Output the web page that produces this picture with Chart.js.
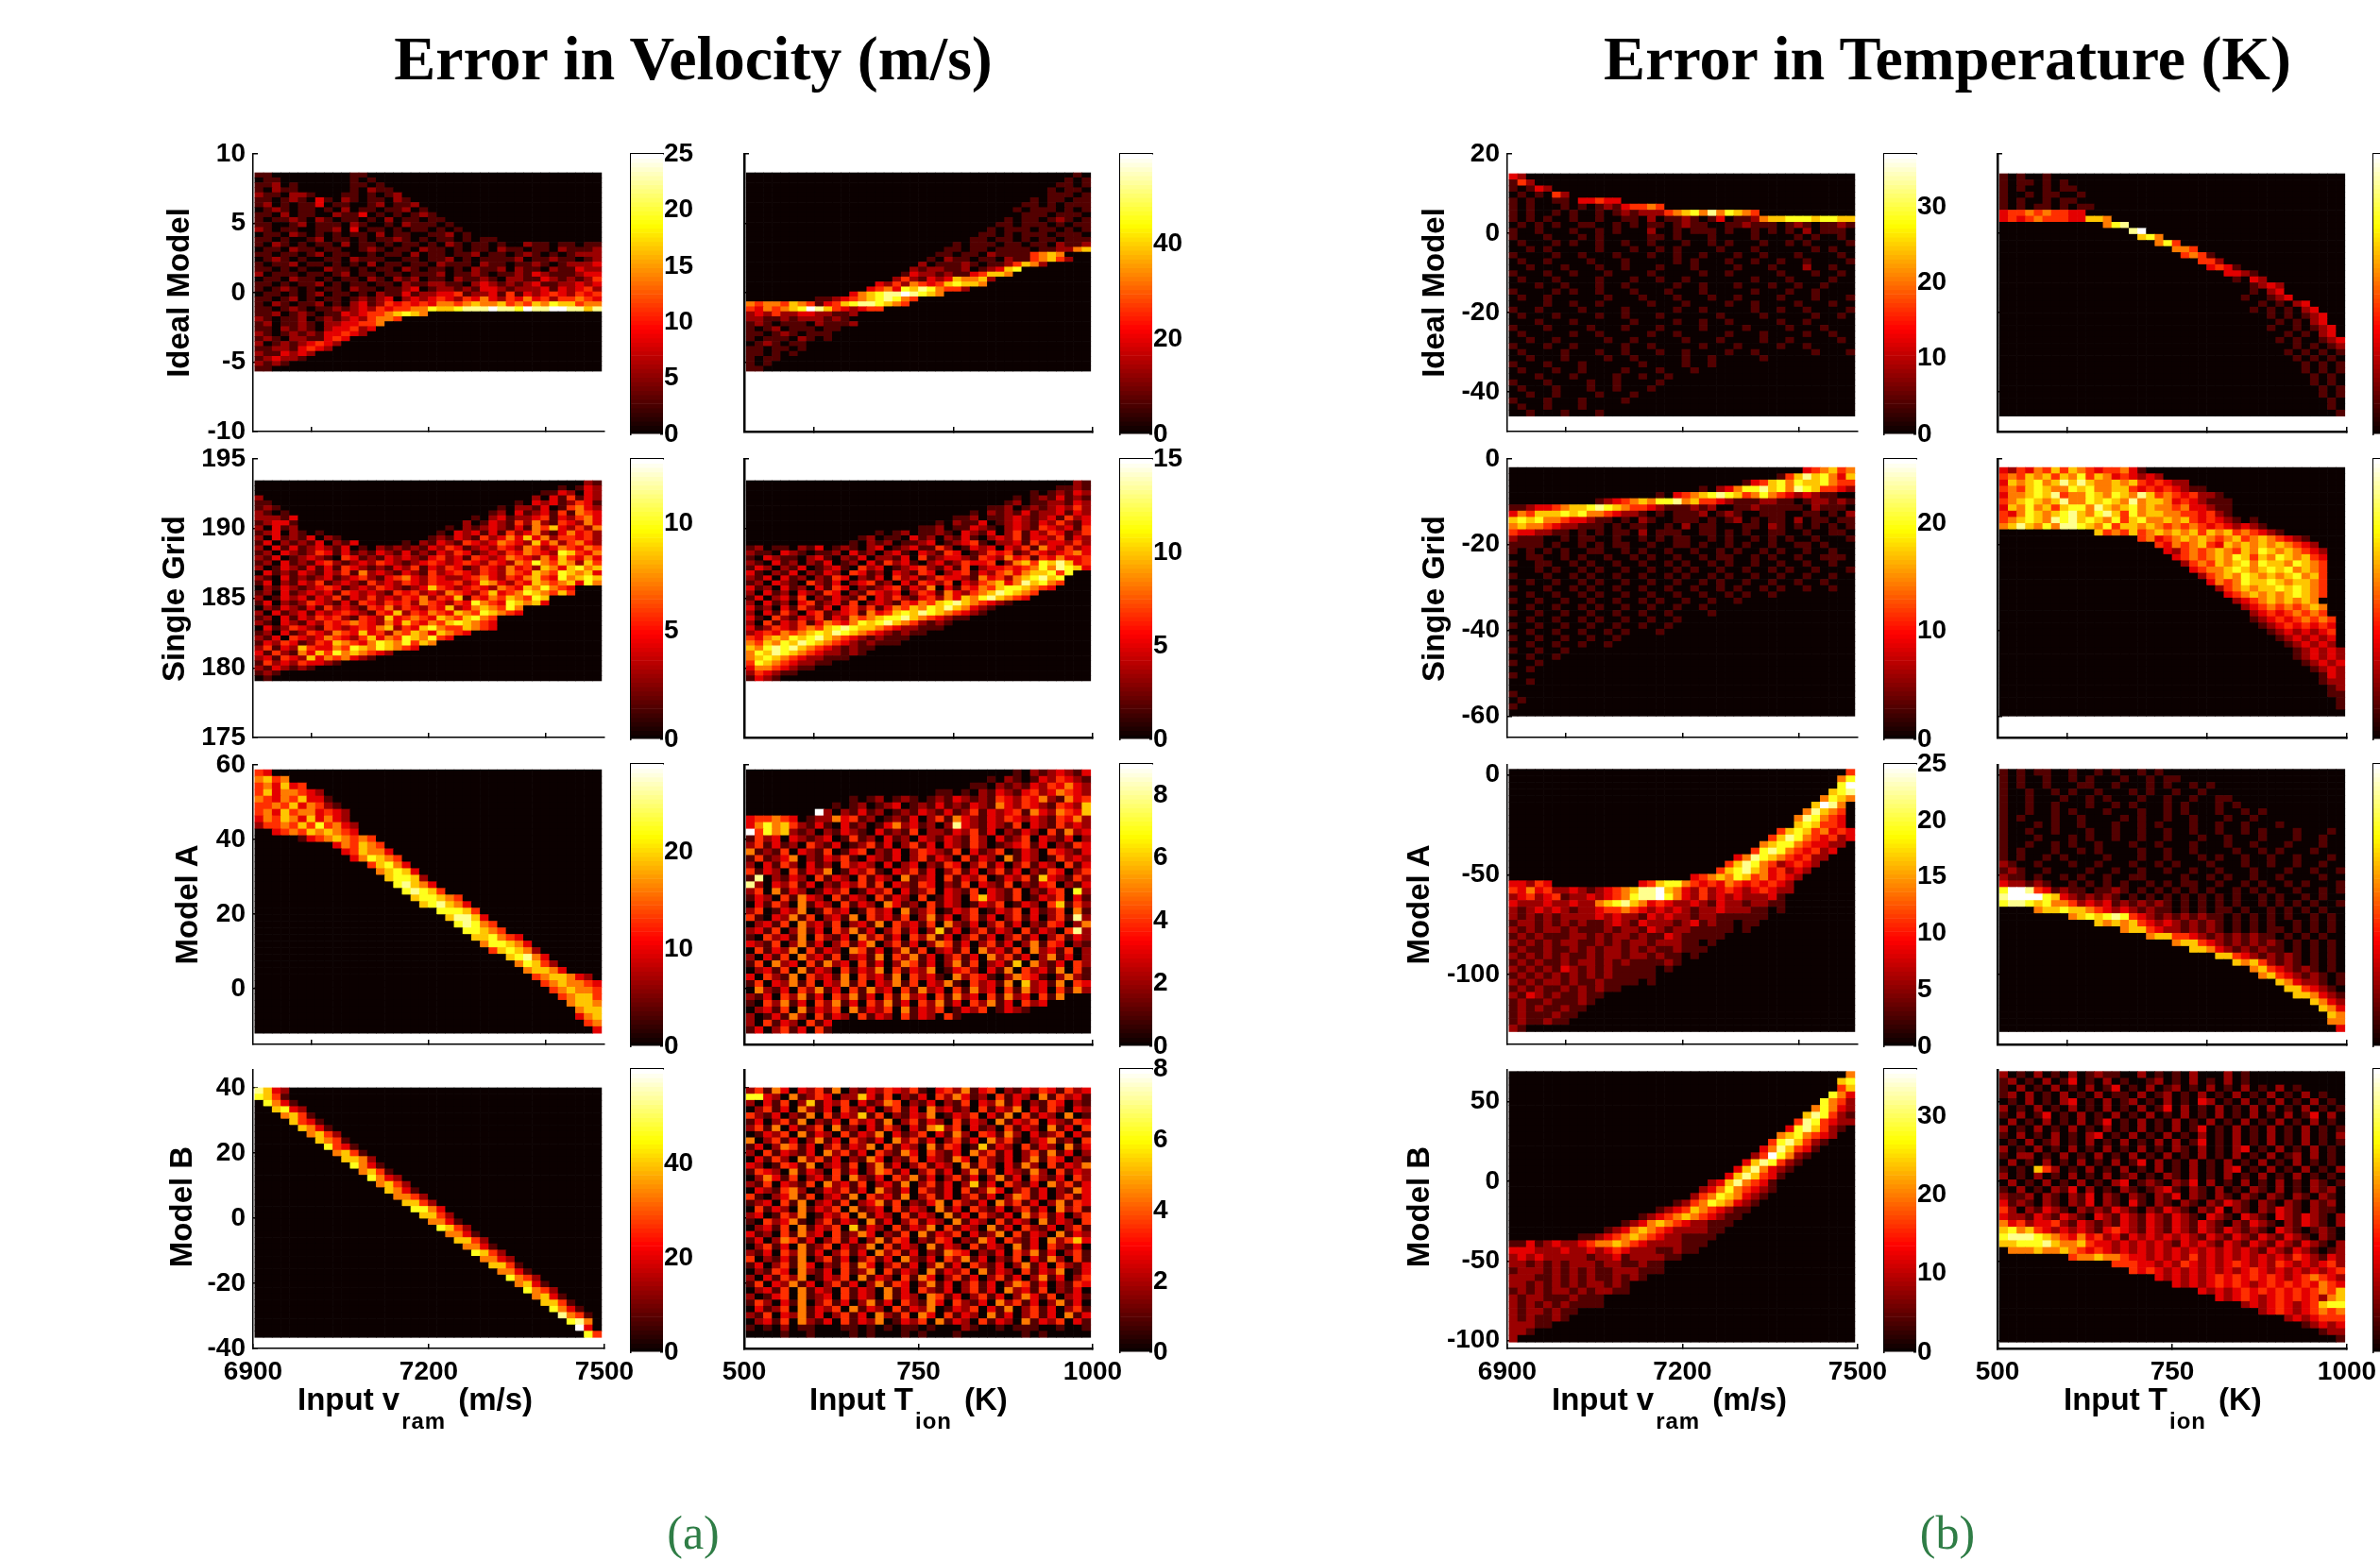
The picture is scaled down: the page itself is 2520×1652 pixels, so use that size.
<!DOCTYPE html>
<html>
<head>
<meta charset="utf-8">
<script src="https://cdn.jsdelivr.net/npm/chart.js@4/dist/chart.umd.min.js"></script>
<style>
html, body { margin: 0; padding: 0; background: #fff; }
#page { position: relative; width: 2520px; height: 1652px; overflow: hidden; background: #fff; }
#page canvas { position: absolute; }
.title { position: absolute; top: 26px; width: 900px; text-align: center; font: bold 66px "Liberation Serif", serif; color: #000; line-height: 72px; }
.caption { position: absolute; top: 1594px; width: 200px; text-align: center; font: 50px "Liberation Serif", serif; color: #2f7d46; line-height: 58px; }
.rowName { position: absolute; width: 300px; height: 40px; line-height: 40px; text-align: center; font: bold 33px "Liberation Sans", sans-serif; color: #000; transform: translate(-50%, -50%) rotate(-90deg); white-space: nowrap; }
.xName { position: absolute; top: 1463px; font: bold 33px "Liberation Sans", sans-serif; color: #000; line-height: 38px; white-space: nowrap; }
.xName sub { font-size: 24px; vertical-align: baseline; position: relative; top: 20px; margin: 0 13px 0 2px; letter-spacing: 1px; }
</style>
</head>
<body>
<div id="page"></div>
<script>
// labels
const rowNames = ['Ideal Model', 'Single Grid', 'Model A', 'Model B'];
const titles = ['Error in Velocity (m/s)', 'Error in Temperature (K)'];
const captions = ['(a)', '(b)'];

// axes of the four rows, velocity block then temperature block
const velYRange = [[-10, 10], [175, 195], [-15, 60], [-40, 45.5]];
const velYTicks = [[-10, -5, 0, 5, 10], [175, 180, 185, 190, 195], [0, 20, 40, 60], [-40, -20, 0, 20, 40]];
const velImgY = [[-5.65, 8.64], [179.07, 193.44], [-12, 58.7], [-36.6, 40]];
const tempYRange = [[-50, 20], [-65, 0], [-135, 5], [-105, 70]];
const tempYTicks = [[-40, -20, 0, 20], [-60, -40, -20, 0], [-100, -50, 0], [-100, -50, 0, 50]];
const tempImgY = [[-46.1, 15], [-60, -2], [-128.6, 2.8], [-101, 69]];

const vramRange = [6900, 7500];
const vramImg = [6903, 7495];
const vramTicks = [7000, 7200, 7400];
const vramBottomTicks = [6900, 7200, 7500];
const tionRange = [500, 1000];
const tionImg = [503, 997];
const tionTicks = [600, 800, 1000];
const tionBottomTicks = [500, 750, 1000];

// colour bars, one per panel
const barMax = [25, 59, 37, 60, 13, 15, 26, 20, 29, 9, 25, 25, 60, 8, 36, 15];
const barTicks = [
  [0, 5, 10, 15, 20, 25], [0, 20, 40], [0, 10, 20, 30], [0, 20, 40],
  [0, 5, 10], [0, 5, 10, 15], [0, 10, 20], [0, 10, 20],
  [0, 10, 20], [0, 2, 4, 6, 8], [0, 5, 10, 15, 20, 25], [0, 10, 20],
  [0, 20, 40], [0, 2, 4, 6, 8], [0, 10, 20, 30], [0, 5, 10, 15]
];

// histogram counts, top row first, one digit per cell (0 to 9 of the panel maximum)
// "12:345" means the digits start at column 12, anything not listed is 0
const velIdealVram = ["1100000000011","01100000000101","112010000001101","1021100000010211","21102210001101012","110121031021011021","1201011301100120112","01210110102011011201","110201100211301010121","1011210210110102011011","11001201110210010211101","210110011203011010110101","0110210101011020110011201","1101001201101011210101101011","1021010110201101011010210110100211011011","0110211011001210110211010110211011021112","1101101201100101102011011201101210101222","0121010011021110011011201011112011211012","1011201101010201101102111021101121012223","1101010021101011021011010211202110211322","2011101101201101101112011210112132111233","0110211010110210212011021121022113212124","1101011201011011021122110232121231122323","1012101011021101123012212133212223132342","0110101201101021131223341223141323432434","1101201011012123023234324353243534244543","1021011201023124343435545655645465766455","1101210112123243445576678889887988998868","11201210113234456765","21011201212324554","120112102233445","11021210233423","2101212133432","12102211343","2012123432","112213432","2113232","123221","2121","11"];
const velIdealTion = ["38:10","37:101","36:1101","35:10110","34:011101","33:1011011","32:11010111","31:101110101","31:011101110","30:1011012101","29:11011101011","28:101110110101","27:1101011101110","26:11011010110111","24:1011101101102112","23:11011011110112256","22:110110211114565","21:10211011021145642","20:201112101124652","19:2122112012367","18:1322121134665","17:242132365562","15:3242543467665","14:345376875442","12:35678898765","8:112345678754","5455465413467887654","4354567986432344","2324223322112","2211212221210","1210111021112","101201110110","1101210111","1011102101","01210110","1101101","110101","10110","101","11"];
const velSingleVram = ["38:21","35:10132","33:1132032","2 32:20314132","11 30:1032312431","121 28:102213014532","2101 27:1203123141543","22213 25:102312234132453","12331 24:2013214252143253","203120 22:102123213154632425","12302101 21:1032313142352135342","2031213021 20:12132142353635244342","130212130213 17:10213214323543263524532","2031312321301021212132431232432542354354","1203212431312132131213243123243543276435","2130123210431213232134231432354325364353","1203121342123243212343234324325475465264","2013213131432121324132431243253426536756","0312132132415232132142343243254365476563","2103121231234213453243223453243564375676","1302132412321423243243342365324365456375","0213212343123243212364323432543657543","1203123231432321434232543246345765464","2013231324132423243524361435465476","1302124321314324342543243754376563","0213213142321435243243623565475","2031231323432143624354365476543","1203132434214326345436546754","2103213243454325364354676543","0312432143234356243675446543","1203124325436342546536543","21304323543246354765743","132431243654357657465","2413264335476576543","3142153647565432","23143263545321","14232433210","2132121","1210","010"];
const velSingleTion = ["38:21","36:1121","33:1012132","31:101213121","30:1201122132","28:112012123242","26:10212131223132","24:1120112321231423","22:102113012321324213","20:11201132102321432314","15:1012011210321302413243124","13:120110312021310232413324132","12:1021201123012341022314233242","1201102130121023012311420132303241532423","2110321011203120231032143012434124323453","1032110231021302213041233214325341435334","2103120213012031423102312433402564768634","1320213012310423012342131402334345758763","31021302132043120321430234132453566747","2130312021430213042312433215342567867","1203210421302341203143240324563586754","312031203143021234132503143546776543","2031203214302143230243153245687654","130231402132140324213425365786543","2031203412314023214354678654321","31203142130342413546576865321","2031420341234153467687654321","31042132413254567786543211","204132413543576786542121","31243245467876654322111","234354567687654321211","4356576786543212111","546576876543212111","6578786543212110","57687654322121","567654322111","4765432211","35543211","243211","1321"];
const velAVram = ["43","5645","453634","46355432","543546331","4454635421","45364553432","35465363532","244546474532","2:3454656543","5:134565454","9:354654","10:346553","11:357654","13:46753","14:56763","15:67762","16:78653","17:78764","18:677654","19:678653","21:77764","22:68863","23:78754","24:77654","25:667543","26:577653","27:467652","29:67853","30:57642","31:56653","32:4566532","33:4565543","34:456554","35:45664","36:5665","37:566","37:356","38:45","39:3"];
const velATion = ["31:102123213","28:102101324321","26:11021213243532","22:110102132134235432","12:1012012101213212143243521534","10:101201230121312132153243214326","8:92021312012132131241323415325436","3445430122534120121302415321324323214352","3575642131031201352312028321321403214232","9475621202132103121402213241302132041523","1423032123014120312032132142031240321302","2413120421301241302413032142012341302143","5121403214013402130243214031240132043213","1412350213241032130241320413205132014232","2031420312042320302302143024130241320413","4132041325013241032413024130241302143024","1802132041320413205123041324013241632142","8203241302132414032143021403214021340213","2405132013240132403124032140321402134072","1320415320413204132040132046321401324031","0314205132041320531204132013240132046142","2401325014230142305124013240132403124051","4103251402315042314025130241302413024182","0231405231402315042314052130241302143025","2314025130425130241302613024132041320482","1042315042130524130425130241302413024132","3214025130241350241302541302413025143021","0413250413205413025140231405231405231402","2031405231402315042513024130524130251302","1405230415230413025413025140231605213042","0231405132041325041325013420315042315041","3042150423150423150423105243102543102521","1403251403251403251403251042315062315043","0521304251304152304152304152304152304152","2130425130425130415230415230415230415","10425130425130425130425130425130423","023140513240513240513240132401321","2013152041320413204132041","2041320413","1302413041"];
const velBVram = ["8632","7641","1:7531","2:6732","3:5641","4:6431","5:6531","6:5642","7:6541","8:7431","9:5641","10:6652","11:7531","12:5641","13:7532","14:5642","15:6531","16:5542","17:6642","18:7753","19:6642","20:5531","21:7642","22:5531","23:6642","24:5531","25:7642","26:5532","27:6641","28:5531","29:7542","30:5631","31:7542","32:5631","33:6641","34:7531","35:8541","36:785","37:93","38:74"];
const velBTion = ["2415303241502132432410342513402132431423","7732051243022631402130425312041320514231","2031402613240312540213021403251302143021","0241305213042130241305231204132503142032","4213021504132614021325013240315041320501","1302415021304231502413204132051324032143","2415031240512031420315624031204132051304","0132405132041325031240315204315203124031","5024130251304213052413024130524102351204","1302541302413250413205143016132041320513","2041321305241304215304213052413024151302","0314205241302153021403215304213025143021","3201431502314025130241320514203152041325","1432051320413025413024130251403215204132","0253140231405213042513024130251304213042","2140321405231402315024130261304213052413","0321452013241305213042130412530241302153","4102351402315042315024130241302541302413","1230415023140235140213504213052413025143","0413205132405123041320513042130241305241","2301425013240513204132051304213052413024","1042351024132051302413205132041320513204","0231405132406132041325041320513042130241","3120415230412530214051324031250413205132","1302541302413025143021430215304213052463","0241305124031250413205132041320513042130","2130425130241305241302154302130425130241","4021315024130241305213042513021403152041","1302415302141530241302513042130251304213","0214305213041250413205132405132041325013","2031425013240513204153024130241302513024","1403251302413025143025130241302541302143","0231405132041320513042130241305231402130","2013405123041320513205413024130253140231","1420315024130251304215304213052413025130","0312405132405132041325013240315024130241","2140325130241305214053041320513024130513","0231405213041325013240513204132051324031","1010201100011010101101000210010111001001","0000100100001010001010001000000010100000"];
const tempIdealVram = ["32","142","10132","0101042","1010011033433","101000101012134454","10100101001012122245675857654","1010100100100110201121013011256677767766","0101010011001010110121100112111012101121","1001000100101000200101110100101010201110","1000100010100000110100010000100001010010","0100010100100100100010010100010010100001","0010100000100010010100001000100000010100","1000010010001000100100100010010001000010","0100100001000100000101000100100100100001","0010001000100100010001000010001000200100","1000100100010000100000100100000100010010","0100010000100010010010000000100010000100","0001001000100100000100100010001001001000","1000010100100010001000100000100010010000","0100100000010001000100010010000100010001","0000100100100000100010000100100001000100","1001000010000100000100100000100100100001","0100010000100100010000001000010000010010","0001000100000010000100100100000100100000","1000100001000100010000100001000010001000","0100000100100000100100000100010000100100","0010010000010010000010001000010010000010","1000100100000100100000100010000100100000","0100001000100100010010000100100000010001","00100010000100100000100100000100","10001000100000010000100100","01000100100001000100010","000100010000100100100","1000100001001000010","010001000100100010","00100100001000100","100010001000010","0100100010000","001000100010"];
const tempIdealTion = ["101001","10110101","101001011","1001011001","1010010110","10101101011","3445454433","3434544433665","12:578","15:89","16:675","18:574","20:554","21:4541","23:442","24:3431","25:03321","26:01032","27:001232","28:01023","28:100123","29:0101023","29:10101023","30:01010123","31:0101023","31:10010123","32:0101023","32:10100123","33:0101012","33:1010101","34:101010","34:010101","35:10101","35:01010","36:1010","36:0101","37:101","37:010","38:10","38:01"];
const tempSingleVram = ["34:345645","31:146867536","27:1346757667544","22:102357786758764432","17:10345678764575432321100","10:123456577856443211122110122121111","1123345667876544321112120011211111021110","3546667675543221010111201210011100110102","6767554332110102100111010120101102011011","5655432211101011001020110001102101010101","4332211010101102011100110101001100100110","2111001011001001010110010100101010010001","1111010010101100100110100101001001101000","1010101001100101001001001010010100100100","0011001010010010100100101100101001001110","1001100101001001001010010100100100100100","0001010010100100100101001001001010010001","1000100101001001001010010100100100100100","0010010010100100100100101001001001001000","1000100101001001001001001010010100100100","0010010010100100100100100101001","1001001001001001010010010010","00100100101001001001001000","100100100100100100100001","00100100101001001001000","100100100100100100100","001001001001010001","1001001001001000","0010010010010","100100100000","0010010000","10010000","0010000","100000","00100","0000","1000","010","10","0"];
const tempSingleTion = ["32435464654344531","4546564657465343232","3656756868655656434322","454676557675566434343211","35567684557657658645434221","456765685576765856653432111","3657564677586567565545332110","435765678657864756655443421000","4567658786765746755656434321010","56865758876574665654545434323210","11:6454645656564656454321","16:45345656545645654321","18:4354564365656565432","19:3245456546576565432","20:345456576465765643","21:24546567576657654","22:3455676567675654","23:245657656567564","24:35457667656654","25:2456566767654","26:345656567654","27:2345656565","28:2345454565","29:234345454","29:1234345454","30:123434343","31:12323234","32:1232323","33:123232","34:123232","34:1232321","35:12323","35:01232","36:0132","37:122","37:012","38:11","38:01","39:1","39:0"];
const tempAVram = ["39:4","38:57","38:79","37:678","36:5765","35:6985","34:58654","33:587543","33:676443","31:467645343","30:4687543423","29:5677543322","28:4787543423","26:35876543422","25:46875423432","24:46786534232","21:3456576453432","33243 15:346775434354343432","435342232123456889653242343234322","23423412232345788975324232322231","32223223225678653432232132212211","21232321223445432323212232221101","212121222232322132322122111111","12212121211232132221231211011","2121221211121221321221111101","121211122121221211321111100","21212122112121221222110100","1211211212122121211211100","212121211212212212110100","12121121221212111121000","212121321212111110100","12121212121211111000","2121221211211110100","121211212121100000","2132121121100000","1211211121000","12121121100","1211121100","121121100","21"];
const tempATion = ["10101100100101001010","10100100101000100101100","1010010001100100010100101","100100101001000101001001000","1001000100101000100100100110","100100100010010100010100010100","1001001010001000100101000100101","10100010010000101001001000100100","1000101001000100101000100100100010","1001001000100100100100100100101000100010","1000100010100100100100010010001000100100","1001001010010001001000100010010001000100","1010001001010000100100100001001010001000","1010010100001000100100010100100100100010","2100100010010001001010001000100100100100","1210010000100100100100100100010001001001","2110100101001001100001001010010010000100","3221210010101010010101100100101001010001","7998431211011210101010101001010100100101","8999976321212101010101010101001010010100","7887675542323121212101010101001010101001","4:566766543232121101010110100101010100","8:5676787432121212110101010100101000","11:6565643232121210101010010101000","14:56643221212101010110101010","17:566443212121211010101001","20:56643212121210101010","22:665321212110101010","25:6643212121010101","27:656421210101","29:56432121010","30:5643212101","32:65322101","33:6643210","34:665321","36:6532","37:653","37:065","38:55","39:3"];
const tempBVram = ["39:5","38:67","38:46","37:753","36:7542","35:57532","34:687421","33:4874322","32:3786421","31:5675432","30:4786421","29:3586431","28:2497521","27:3687421","26:3685321","25:3686431","23:23685431","22:235754321","21:245765321","19:1245765321","17:12346543211","15:123456543211","13:1235654322111","11:12356543222211","8:1123456543221111","11312322345565432222111","3332223223234322211211","232322222122312222110","22121212221221121100","1222121212112221110","222112121211212100","2212121212212100","121212212122110","2122111211100","212121211110","2122121100","212112100","2221100","2210","2"];
const tempBTion = ["20102010201211002010102000201","1201020130102010012010201020100","1020102010201301020120102010201020100","1202010201020110201201020102010201020100","0102010230102012010201032010201020102010","2010201020102010201302010201020201020101","1020130102010201020102010201020102013020","0201020102013010201020102010201020102010","2010201020102010201020130102010201020101","1020102010230102010201020102010201020102","0102012010201020102020130102010201020101","2010201020102010201021020102301020102010","1022010201020102010201020102010201202010","0201020102010201302010201020102010201010","1010642010201020102010201023010201020102","2010201020102012010210201020102010201010","0201020102010230121021302010201020102101","1020102130201021012310210201021020102120","2112021021302102102130210210210210210210","3121021021302103102102102132102102102120","4202132102121321021321021302102132102110","3221321321032132132132103210321032132102","5342334213212132132132132102132102132102","6756432323213432132132132132121032101210","7888765435342313232323213213213213210210","6677786556433232323213232132132132132102","1:555655654343232323232323232321321321012","8:45565543323232423232323232432132321","13:4443323243232343232432323423323","15:43432323232323432323232343343","18:3232323434343432345432325452","20:323234343234343435434567","23:3232343434343454665","25:3234323434342567","28:2323432346777","30:23432345455","33:2323444","35:12323","37:122","39:1"];

// layout of the page, in pixels
const colLeft = [268, 788, 1596, 2115];
const colRight = [640, 1157, 1967, 2485];
const barLeft = [667.5, 1185.5, 1995, 2513];
const barWidth = 34;
const rowTop = [163, 486, 810, 1133];
const rowBottom = [457, 781, 1106, 1428];
const barTop = [163, 486, 809, 1132];
const barBottom = [460, 783, 1108, 1432];
const rowNameX = [[190, 185, 199, 193], [1519, 1519, 1503, 1503]];
const rowNameY = [310, 634, 958, 1278];
const xNameLeft = [315, 857, 1643, 2185];

const page = document.getElementById('page');
const tickFont = { family: '"Liberation Sans", sans-serif', size: 28, weight: 'bold' };

// MATLAB hot colormap
function hot(f) {
  const r = Math.min(1, 0.0417 + f / 0.375 * 0.9583);
  const g = Math.max(0, Math.min(1, (f - 0.375) / 0.375));
  const b = Math.max(0, Math.min(1, (f - 0.75) / 0.25));
  return 'rgb(' + Math.round(r * 255) + ',' + Math.round(g * 255) + ',' + Math.round(b * 255) + ')';
}

function addCanvas(left, top, width, height) {
  const c = document.createElement('canvas');
  c.width = width;
  c.height = height;
  c.style.left = left + 'px';
  c.style.top = top + 'px';
  c.style.width = width + 'px';
  c.style.height = height + 'px';
  page.appendChild(c);
  return c;
}

function addText(cls, html, left, top) {
  const d = document.createElement('div');
  d.className = cls;
  d.innerHTML = html;
  d.style.left = left + 'px';
  if (top !== undefined) d.style.top = top + 'px';
  page.appendChild(d);
}

// expand the digit rows into one floating bar per cell
function buildCells(rows, imgX, imgY) {
  const n = 40;
  const dx = (imgX[1] - imgX[0]) / n;
  const dy = (imgY[1] - imgY[0]) / n;
  const points = [];
  const colors = [];
  rows.forEach((row, r) => {
    const levels = new Array(n).fill(0);
    row.split(' ').forEach(seg => {
      const parts = seg.includes(':') ? seg.split(':') : ['0', seg];
      const start = Number(parts[0]);
      for (let i = 0; i < parts[1].length && start + i < n; i++) {
        levels[start + i] = Number(parts[1][i]);
      }
    });
    levels.forEach((lv, c) => {
      points.push({ x: imgX[0] + (c + 0.5) * dx, y: [imgY[1] - (r + 1) * dy, imgY[1] - r * dy] });
      colors.push(hot(lv / 9));
    });
  });
  return { points, colors };
}

function drawPanel(rows, col, row, imgY, yRange, yTicks) {
  const isVram = col % 2 === 0;
  const padL = 110, padR = 40, padT = 20, padB = 60;
  const w = colRight[col] - colLeft[col];
  const h = rowBottom[row] - rowTop[row];
  const canvas = addCanvas(colLeft[col] - padL, rowTop[row] - padT, w + padL + padR, h + padT + padB);
  const cells = buildCells(rows, isVram ? vramImg : tionImg, imgY);
  const xTicks = row === 3 ? (isVram ? vramBottomTicks : tionBottomTicks) : (isVram ? vramTicks : tionTicks);
  const axisW = isVram ? 1.5 : 2.5;

  new Chart(canvas, {
    type: 'bar',
    data: {
      datasets: [{
        data: cells.points,
        backgroundColor: cells.colors,
        borderWidth: 0,
        barPercentage: 1,
        categoryPercentage: 1
      }]
    },
    options: {
      responsive: false,
      animation: false,
      events: [],
      layout: { autoPadding: false, padding: { top: padT, right: padR, left: 0, bottom: 0 } },
      plugins: { legend: { display: false }, tooltip: { enabled: false } },
      scales: {
        x: {
          type: 'linear',
          offset: false,
          min: (isVram ? vramRange : tionRange)[0],
          max: (isVram ? vramRange : tionRange)[1],
          border: { color: '#000', width: axisW },
          grid: { offset: false, drawOnChartArea: false, color: '#000', lineWidth: 1.5, tickLength: -5 },
          ticks: { display: row === 3, font: tickFont, color: '#000', padding: 13, maxRotation: 0, autoSkip: false, callback: v => String(v) },
          afterBuildTicks: s => { s.ticks = xTicks.map(v => ({ value: v })); },
          afterFit: s => { s.height = padB; s.paddingLeft = 0; s.paddingRight = 0; }
        },
        y: {
          min: yRange[0],
          max: yRange[1],
          border: { color: '#000', width: axisW },
          grid: { drawOnChartArea: false, color: '#000', lineWidth: 1.5, tickLength: -5 },
          ticks: { display: isVram, font: tickFont, color: '#000', padding: 13, autoSkip: false, callback: v => String(v) },
          afterBuildTicks: s => { s.ticks = yTicks.map(v => ({ value: v })); },
          afterFit: s => { s.width = padL; s.paddingTop = 0; s.paddingBottom = 0; }
        }
      }
    }
  });
}

function drawColorBar(col, row, max, ticks) {
  const padL = 20, padR = 70, pad = 20;
  const h = barBottom[row] - barTop[row];
  const canvas = addCanvas(barLeft[col] - padL, barTop[row] - pad, barWidth + padL + padR, h + pad * 2);
  const steps = 64;
  const points = [];
  const colors = [];
  for (let i = 0; i < steps; i++) {
    points.push({ x: 'c', y: [i * max / steps, (i + 1) * max / steps] });
    colors.push(hot(i / (steps - 1)));
  }
  new Chart(canvas, {
    type: 'bar',
    data: {
      labels: ['c'],
      datasets: [{ data: points, backgroundColor: colors, borderWidth: 0, barPercentage: 1, categoryPercentage: 1 }]
    },
    options: {
      responsive: false,
      animation: false,
      events: [],
      layout: { autoPadding: false, padding: { top: pad, bottom: pad, left: 0, right: 0 } },
      plugins: { legend: { display: false }, tooltip: { enabled: false } },
      scales: {
        x: {
          position: 'top',
          border: { color: '#000', width: 1.5 },
          grid: { display: false },
          ticks: { display: false },
          afterFit: s => { s.height = 0; s.paddingLeft = 0; s.paddingRight = 0; }
        },
        y: {
          position: 'right',
          min: 0,
          max: max,
          border: { display: false },
          grid: { drawOnChartArea: false, color: '#000', lineWidth: 1.5, tickLength: -3 },
          ticks: { font: tickFont, color: '#000', padding: 4, autoSkip: false, callback: v => String(v) },
          afterBuildTicks: s => { s.ticks = ticks.map(v => ({ value: v })); },
          afterFit: s => { s.width = padR; s.paddingTop = 0; s.paddingBottom = 0; }
        },
        yEdge: {
          position: 'left',
          min: 0,
          max: max,
          border: { color: '#000', width: 1.5 },
          grid: { display: false },
          ticks: { display: false },
          afterFit: s => { s.width = padL; s.paddingTop = 0; s.paddingBottom = 0; }
        }
      }
    }
  });
}

// panels in reading order: row by row, the four columns
const panelRows = [
  [velIdealVram, velIdealTion, tempIdealVram, tempIdealTion],
  [velSingleVram, velSingleTion, tempSingleVram, tempSingleTion],
  [velAVram, velATion, tempAVram, tempATion],
  [velBVram, velBTion, tempBVram, tempBTion]
];

panelRows.forEach((cols, r) => {
  cols.forEach((rows, c) => {
    const isVel = c < 2;
    drawPanel(rows, c, r, (isVel ? velImgY : tempImgY)[r], (isVel ? velYRange : tempYRange)[r], (isVel ? velYTicks : tempYTicks)[r]);
    drawColorBar(c, r, barMax[r * 4 + c], barTicks[r * 4 + c]);
  });
});

addText('title', titles[0], 284, 26);
addText('title', titles[1], 1612, 26);
addText('caption', captions[0], 634);
addText('caption', captions[1], 1962);

rowNames.forEach((name, r) => {
  addText('rowName', name, rowNameX[0][r], rowNameY[r]);
  addText('rowName', name, rowNameX[1][r], rowNameY[r]);
  page.lastChild.style.top = rowNameY[r] + 'px';
  page.lastChild.previousSibling.style.top = rowNameY[r] + 'px';
});

xNameLeft.forEach((left, c) => {
  const html = c % 2 === 0 ? 'Input v<sub>ram</sub>(m/s)' : 'Input T<sub>ion</sub>(K)';
  addText('xName', html, left);
});
</script>
</body>
</html>
